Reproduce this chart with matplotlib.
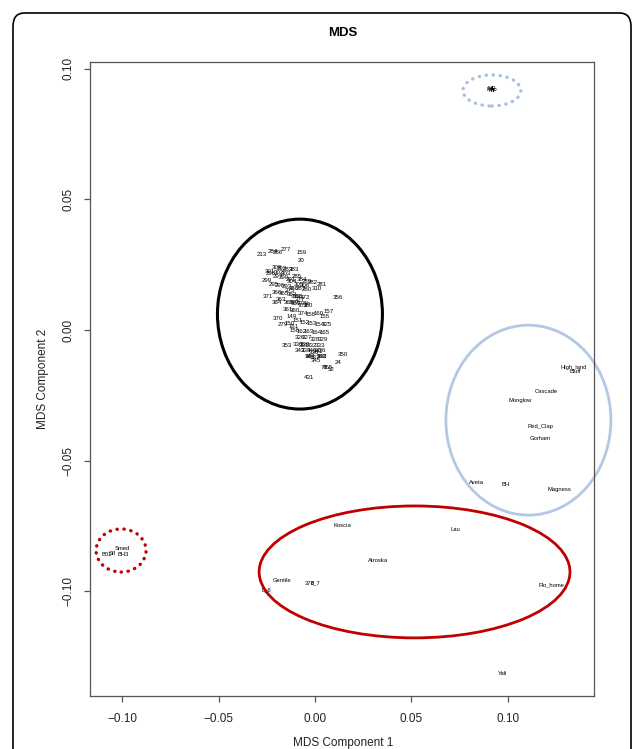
import matplotlib
matplotlib.use('Agg')
import matplotlib.pyplot as plt
from matplotlib.patches import Ellipse, FancyBboxPatch

plt.rcParams['font.family'] = ['Liberation Sans', 'DejaVu Sans']

# ---- data: MDS coordinates (component 1, component 2) ----
core_labels = ["213", "284", "286", "277", "159", "20", "281", "356", "371", "364",
               "157", "370", "279", "156", "353", "350", "24", "455", "75", "52", "431",
               "299", "298", "300", "292", "283", "383", "297", "290", "291", "285",
               "384", "289", "282", "295", "296", "293", "288", "287", "280", "310",
               "366", "365", "362", "368", "372", "363", "369", "367", "373", "361",
               "360", "374",
               "158", "160", "155", "151", "152", "153", "154", "325", "161", "162",
               "163", "164", "165", "326", "327", "328", "329", "330", "331", "332",
               "333", "334", "335", "336", "68", "337", "338", "149", "150",
               "375", "376", "377", "378b", "379", "380",
               "339", "340", "341", "342", "343", "344", "345",
               "301", "302", "303", "304", "305", "306"]
core_x = [-0.0275, -0.0218, -0.0192, -0.0150, -0.0067, -0.0073, 0.0036, 0.0119, -0.0244, -0.0197,
          0.0073, -0.0192, -0.0166, -0.0104, -0.0145, 0.0145, 0.0119, 0.0067, 0.0047, 0.0083, -0.0031,
          -0.0250, -0.0230, -0.0200, -0.0170, -0.0140, -0.0110, -0.0195, -0.0160, -0.0125, -0.0095,
          -0.0070, -0.0040, -0.0010, -0.0215, -0.0180, -0.0145, -0.0110, -0.0075, -0.0040, 0.0010,
          -0.0200, -0.0160, -0.0120, -0.0090, -0.0050, -0.0175, -0.0135, -0.0100, -0.0060, -0.0140,
          -0.0105, -0.0060,
          -0.0020, 0.0020, 0.0050, -0.0090, -0.0055, -0.0015, 0.0025, 0.0060, -0.0110, -0.0070,
          -0.0030, 0.0010, 0.0050, -0.0080, -0.0040, 0.0000, 0.0040, -0.0090, -0.0055, -0.0015,
          0.0025, -0.0045, -0.0005, 0.0030, -0.0030, 0.0000, 0.0035, -0.0120, -0.0130,
          -0.0130, -0.0098, -0.0078, -0.0057, -0.0109, -0.0036,
          -0.0052, -0.0016, 0.0016, 0.0036, -0.0078, -0.0026, 0.0005,
          -0.0235, -0.0185, -0.0150, -0.0120, -0.0085, -0.0055]
core_y = [0.0291, 0.0302, 0.0295, 0.0310, 0.0295, 0.0268, 0.0176, 0.0123, 0.0130, 0.0107,
          0.0069, 0.0046, 0.0023, 0.0000, -0.0061, -0.0092, -0.0126, -0.0142, -0.0145, -0.0153, -0.0180,
          0.0190, 0.0215, 0.0240, 0.0235, 0.0230, 0.0230, 0.0205, 0.0200, 0.0195, 0.0205,
          0.0195, 0.0185, 0.0180, 0.0175, 0.0170, 0.0165, 0.0160, 0.0160, 0.0155, 0.0160,
          0.0145, 0.0140, 0.0135, 0.0130, 0.0125, 0.0115, 0.0105, 0.0100, 0.0095, 0.0080,
          0.0075, 0.0065,
          0.0060, 0.0065, 0.0050, 0.0035, 0.0030, 0.0025, 0.0020, 0.0020, 0.0015, -0.0005,
          -0.0005, -0.0010, -0.0010, -0.0030, -0.0030, -0.0035, -0.0035, -0.0055, -0.0060, -0.0060,
          -0.0060, -0.0080, -0.0085, -0.0080, -0.0100, -0.0105, -0.0100, 0.0050, 0.0025,
          0.0153, 0.0130, 0.0115, 0.0100, 0.0107, 0.0092,
          -0.0057, -0.0077, -0.0084, -0.0100, -0.0077, -0.0100, -0.0115,
          0.0225, 0.0220, 0.0215, 0.0185, 0.0175, 0.0170]

highland_labels = ["High_land", "Bluff", "Cascade", "Monglow", "Red_Clap", "Gorham",
                   "Aveta", "BH", "Magness"]
highland_x = [0.1342, 0.1347, 0.1197, 0.1062, 0.1171, 0.1166, 0.0839, 0.0990, 0.1269]
highland_y = [-0.0142, -0.0157, -0.0237, -0.0268, -0.0368, -0.0417, -0.0582, -0.0593, -0.0609]

lowland_labels = ["Koscia", "Lau", "Atroska", "Gentile", "378", "8_7", "L_6", "Flo_home", "Yali"]
lowland_x = [0.0140, 0.0725, 0.0326, -0.0171, -0.0026, 0.0005, -0.0254, 0.1223, 0.0974]
lowland_y = [-0.0747, -0.0762, -0.0881, -0.0957, -0.0969, -0.0969, -0.0995, -0.0976, -0.1313]

outlier_top_labels = ["MF", "MP", "MH"]
outlier_top_x = [0.0917, 0.0920, 0.0914]
outlier_top_y = [0.0925, 0.0915, 0.0920]

outlier_left_labels = ["B01", "Smed", "BH3", "Sfl"]
outlier_left_x = [-0.1078, -0.1000, -0.0995, -0.1050]
outlier_left_y = [-0.0858, -0.0835, -0.0858, -0.0854]

xticks = [-0.10, -0.05, 0.00, 0.05, 0.10]
yticks = [-0.10, -0.05, 0.00, 0.05, 0.10]
tick_labels = ["\u22120.10", "\u22120.05", "0.00", "0.05", "0.10"]

# ---- figure ----
W, H = 634, 749
fig = plt.figure(figsize=(W / 100, H / 100), dpi=100)

# outer rounded frame
frame = FancyBboxPatch((13 / W, -0.05), (631 - 13) / W, (H - 13) / H + 0.05,
                       boxstyle="round,pad=0,rounding_size=0.018",
                       transform=fig.transFigure, fill=False, edgecolor='black',
                       linewidth=1.2, clip_on=False)
fig.patches.append(frame)

ax_l, ax_r, ax_t, ax_b = 90, 594, 62, 696
ax = fig.add_axes([ax_l / W, (H - ax_b) / H, (ax_r - ax_l) / W, (ax_b - ax_t) / H])
ax.set_xlim(-0.1166, 0.1446)
ax.set_ylim(-0.1401, 0.1026)

for labs, xs, ys, fs in [(core_labels, core_x, core_y, 4.4),
                         (highland_labels, highland_x, highland_y, 4.2),
                         (lowland_labels, lowland_x, lowland_y, 4.2),
                         (outlier_top_labels, outlier_top_x, outlier_top_y, 4.2),
                         (outlier_left_labels, outlier_left_x, outlier_left_y, 4.2)]:
    for lab, x, y in zip(labs, xs, ys):
        ax.text(x, y, lab, fontsize=fs, ha='center', va='center', color='black')

# group ellipses (annotations)
def add_ellipse(cx, cy, w, h, color, lw, dotted=False):
    e = Ellipse((cx, cy), w, h, fill=False, edgecolor=color, linewidth=lw, clip_on=False)
    if dotted:
        e.set_linestyle((0, (0.1, 2.0)))
        e.set_capstyle('round')
    ax.add_patch(e)

add_ellipse(-0.0078, 0.0061, 0.0855, 0.0727, 'black', 2.2)
add_ellipse(0.1106, -0.0345, 0.0855, 0.0727, '#b3c8e2', 2.0)
add_ellipse(0.0516, -0.0926, 0.1611, 0.0505, '#c00000', 2.0)
add_ellipse(0.0917, 0.0917, 0.0300, 0.0119, '#a7c0de', 2.4, dotted=True)
add_ellipse(-0.1005, -0.0844, 0.0259, 0.0165, '#c00000', 2.4, dotted=True)

for s in ax.spines.values():
    s.set_color('#555555')
    s.set_linewidth(0.9)

ax.set_xticks(xticks)
ax.set_xticklabels(tick_labels)
ax.set_yticks(yticks)
ax.set_yticklabels(tick_labels, rotation=90, va='center')
ax.tick_params(axis='both', direction='out', length=4.3, width=0.9, color='#555555',
               labelsize=8.5, labelcolor='#222222')
ax.tick_params(axis='x', pad=7.7)
ax.tick_params(axis='y', pad=7)

fig.text(343 / W, 1 - 33 / H, "MDS", fontsize=9.5, fontweight='bold', ha='center', va='center')
fig.text(343 / W, 1 - 743 / H, "MDS Component 1", fontsize=8.5, ha='center', va='center',
         color='#222222')
fig.text(43 / W, 1 - 379 / H, "MDS Component 2", fontsize=8.5, ha='center', va='center',
         rotation=90, color='#222222')

fig.savefig('out.png', dpi=100)
